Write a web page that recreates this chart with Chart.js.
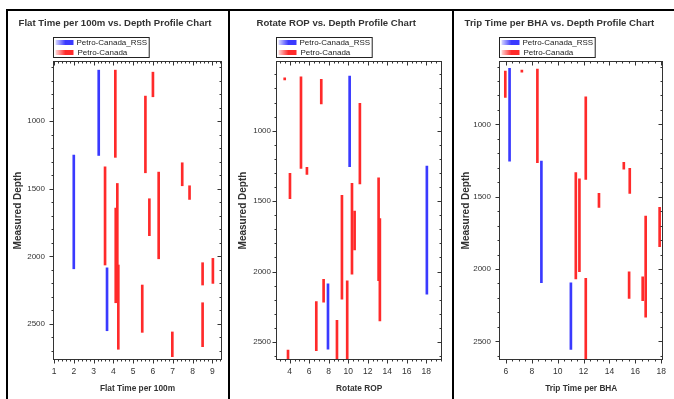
<!DOCTYPE html>
<html>
<head>
<meta charset="utf-8">
<script src="https://cdn.jsdelivr.net/npm/chart.js@4.4.1/dist/chart.umd.min.js"></script>
<style>
  body { margin: 0; background: #fff; width: 674px; height: 399px; overflow: hidden; position: relative; }
  .line { position: absolute; background: #000; }
  .panel { position: absolute; top: 12px; height: 387px; }
</style>
</head>
<body>
<div class="line" style="left:6px;top:9px;width:668px;height:2px"></div>
<div class="line" style="left:6px;top:9px;width:2px;height:390px"></div>
<div class="line" style="left:228px;top:9px;width:2px;height:390px"></div>
<div class="line" style="left:452px;top:9px;width:2px;height:390px"></div>
<div class="panel" style="left:9px;width:218px"><canvas id="flat"></canvas></div>
<div class="panel" style="left:231px;width:221px"><canvas id="rop"></canvas></div>
<div class="panel" style="left:455px;width:219px"><canvas id="trip"></canvas></div>
<script>
const seriesNames = ['Petro-Canada_RSS', 'Petro-Canada'];
const depthTicks = [1000, 1500, 2000, 2500];

// each run: [value, top depth, bottom depth]
const flatRss = [[3.26, 623, 1254], [2.0, 1251, 2092], [3.68, 2085, 2550]];
const flatPc = [
  [4.1, 623, 1268], [6.0, 638, 820], [5.62, 815, 1382], [3.58, 1338, 2064],
  [4.2, 1461, 2340], [4.12, 1643, 2343], [4.25, 2064, 2687], [6.29, 1377, 2018],
  [5.82, 1574, 1847], [7.48, 1308, 1478], [7.85, 1478, 1579], [8.51, 2047, 2212],
  [9.03, 2015, 2200], [5.46, 2212, 2562], [6.98, 2559, 2742], [8.51, 2343, 2668]
];
const flatTicks = [1, 2, 3, 4, 5, 6, 7, 8, 9];

const ropRss = [[10.15, 612, 1256], [18.07, 1251, 2161], [7.93, 2088, 2552]];
const ropPc = [
  [3.49, 625, 640], [5.16, 617, 1267], [7.24, 635, 810], [11.2, 806, 1378],
  [5.77, 1260, 1310], [4.03, 1302, 1482], [9.36, 1459, 2197], [10.39, 1373, 2019],
  [10.66, 1570, 1847], [13.12, 1334, 2065], [13.25, 1623, 2351], [7.48, 2055, 2218],
  [6.73, 2214, 2562], [8.85, 2347, 2625], [9.9, 2065, 2625], [3.83, 2557, 2625]
];
const ropTicks = [4, 6, 8, 10, 12, 14, 16, 18];

const tripRss = [[6.28, 613, 1254], [8.74, 1254, 2095], [11.02, 2095, 2555]];
const tripPc = [
  [5.95, 632, 813], [7.23, 625, 640], [8.43, 618, 1265], [12.17, 809, 1380],
  [11.4, 1334, 2069], [11.68, 1376, 2019], [13.19, 1477, 1574], [15.11, 1263, 1309],
  [15.57, 1304, 1477], [17.88, 1574, 1846], [16.8, 1634, 2332], [15.52, 2019, 2203],
  [16.57, 2054, 2219], [12.17, 2065, 2622]
];
const tripTicks = [6, 8, 10, 12, 14, 16, 18];

const sans = "'Liberation Sans', Arial, sans-serif";
const colors = ['#3a3aff', '#ff2a2a'];
const fades = ['#d8d8ff', '#ffd8d8'];

const toBars = runs => runs.map(r => ({ x: r[0], y: [r[1], r[2]] }));

// frame with minor / major ticks on all four sides, plus the boxed legend
const framePlugin = {
  id: 'frame',
  afterDatasetsDraw(chart, args, opts) {
    const { ctx, chartArea: a, scales: { x, y } } = chart;
    ctx.save();
    ctx.strokeStyle = '#333';
    ctx.lineWidth = 1;
    const L = Math.round(a.left) - 0.5, R = Math.round(a.right) + 0.5;
    const T = Math.round(a.top) - 0.5, B = Math.round(a.bottom) + 0.5;
    ctx.strokeRect(L, T, R - L, B - T);
    ctx.beginPath();
    const xMaj = x.ticks.map(t => t.value), yMaj = y.ticks.map(t => t.value);
    for (let i = Math.ceil(x.min / opts.xMinor); i * opts.xMinor <= x.max + 1e-9; i++) {
      const v = i * opts.xMinor;
      const len = xMaj.some(m => Math.abs(m - v) < 1e-6) ? 4 : 2;
      const px = Math.round(x.getPixelForValue(v)) + 0.5;
      ctx.moveTo(px, B); ctx.lineTo(px, B + len);
      ctx.moveTo(px, T); ctx.lineTo(px, T + len);
    }
    for (let i = Math.ceil(y.min / opts.yMinor); i * opts.yMinor <= y.max; i++) {
      const v = i * opts.yMinor;
      const len = yMaj.includes(v) ? 4 : 2;
      const py = Math.round(y.getPixelForValue(v)) + 0.5;
      ctx.moveTo(L, py); ctx.lineTo(L - len, py);
      ctx.moveTo(R, py); ctx.lineTo(R - len, py);
    }
    ctx.stroke();

    // legend box
    const lx = Math.round(a.left) - 0.5, ly = 25.5;
    ctx.font = '8px ' + sans;
    const tw = Math.max(...chart.data.datasets.map(d => ctx.measureText(d.label).width));
    ctx.strokeStyle = '#222';
    ctx.strokeRect(lx, ly, tw + 25, 20);
    chart.data.datasets.forEach((d, i) => {
      const cy = ly + 5 + i * 10;
      const g = ctx.createLinearGradient(lx + 2, 0, lx + 20, 0);
      g.addColorStop(0, fades[i]);
      g.addColorStop(0.55, colors[i]);
      g.addColorStop(1, colors[i]);
      ctx.fillStyle = g;
      ctx.fillRect(lx + 2, cy - 2.5, 18, 5);
      ctx.fillStyle = '#222';
      ctx.textBaseline = 'middle';
      ctx.fillText(d.label, lx + 23 + i, cy);
    });
    ctx.restore();
  }
};

function profileChart(id, o) {
  return new Chart(document.getElementById(id), {
    type: 'bar',
    plugins: [framePlugin],
    data: {
      datasets: [
        { label: seriesNames[0], data: toBars(o.rss), backgroundColor: colors[0] },
        { label: seriesNames[1], data: toBars(o.pc), backgroundColor: colors[1] }
      ]
    },
    options: {
      animation: false,
      responsive: true,
      maintainAspectRatio: false,
      layout: { padding: { left: 0, right: o.padRight, top: 0, bottom: 0 } },
      datasets: { bar: { barThickness: 2, grouped: false, borderWidth: 0 } },
      plugins: {
        legend: { display: false },
        tooltip: { enabled: false },
        frame: { xMinor: o.xMinor, yMinor: 100 },
        title: {
          display: true,
          text: o.title,
          color: '#333',
          font: { family: sans, size: 9.6, weight: 'bold' },
          padding: { top: 6, bottom: 32.5 }
        }
      },
      scales: {
        x: {
          type: 'linear',
          min: o.xMin,
          max: o.xMax,
          offset: false,
          grid: { display: false, drawTicks: false, offset: false },
          border: { display: false },
          afterBuildTicks: ax => { ax.ticks = o.xTicks.map(v => ({ value: v })); },
          afterFit: ax => { ax.height = 40; },
          ticks: { color: '#333', padding: 8, maxRotation: 0, font: { family: sans, size: 8.5 } },
          title: {
            display: true,
            text: o.xTitle,
            color: '#333',
            font: { family: sans, size: 8.3, weight: 'bold' },
            padding: { top: 0, bottom: 5.5 }
          }
        },
        y: {
          type: 'linear',
          reverse: true,
          min: o.yMin,
          max: o.yMax,
          grid: { display: false, drawTicks: false },
          border: { display: false },
          afterBuildTicks: ax => { ax.ticks = depthTicks.map(v => ({ value: v })); },
          afterFit: ax => { ax.width = o.yWidth; },
          ticks: {
            color: '#333', padding: o.yPad, font: { family: sans, size: 8 },
            callback: v => String(v)
          },
          title: {
            display: true,
            text: 'Measured Depth',
            color: '#333',
            font: { family: sans, size: 10, weight: 'bold' },
            padding: { top: o.yTitlePad, bottom: 0 }
          }
        }
      }
    }
  });
}

profileChart('flat', {
  title: 'Flat Time per 100m vs. Depth Profile Chart', xTitle: 'Flat Time per 100m',
  rss: flatRss, pc: flatPc, xTicks: flatTicks, xMin: 1, xMax: 9.44, xMinor: 0.2,
  yMin: 563, yMax: 2759, yWidth: 45, yPad: 9, yTitlePad: 3, padRight: 6
});
profileChart('rop', {
  title: 'Rotate ROP vs. Depth Profile Chart', xTitle: 'Rotate ROP',
  rss: ropRss, pc: ropPc, xTicks: ropTicks, xMin: 2.7, xMax: 19.55, xMinor: 0.5,
  yMin: 512, yMax: 2621, yWidth: 46, yPad: 6, yTitlePad: 6, padRight: 10.7
});
profileChart('trip', {
  title: 'Trip Time per BHA vs. Depth Profile Chart', xTitle: 'Trip Time per BHA',
  rss: tripRss, pc: tripPc, xTicks: tripTicks, xMin: 5.54, xMax: 18.1, xMinor: 0.5,
  yMin: 569, yMax: 2622, yWidth: 45, yPad: 9, yTitlePad: 5, padRight: 10.3
});
</script>
</body>
</html>
